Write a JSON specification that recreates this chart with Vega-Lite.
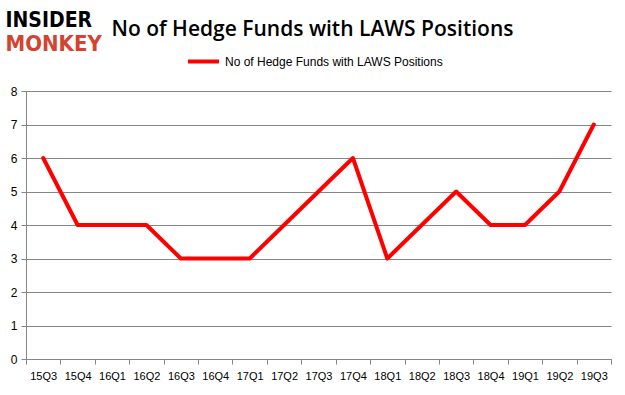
{
  "$schema": "https://vega.github.io/schema/vega-lite/v6.json",
  "width": 585,
  "height": 268,
  "autosize": {"type": "none"},
  "padding": {"left": 26, "top": 91, "right": 14, "bottom": 36},
  "background": "white",
  "title": {
    "text": "No of Hedge Funds with LAWS Positions",
    "font": "Open Sans",
    "fontSize": 21,
    "fontWeight": 600,
    "color": "#000000",
    "anchor": "middle",
    "dx": -6,
    "offset": -31
  },
  "data": {
    "values": [
      {"q": "15Q3", "v": 6, "s": "No of Hedge Funds with LAWS Positions"},
      {"q": "15Q4", "v": 4, "s": "No of Hedge Funds with LAWS Positions"},
      {"q": "16Q1", "v": 4, "s": "No of Hedge Funds with LAWS Positions"},
      {"q": "16Q2", "v": 4, "s": "No of Hedge Funds with LAWS Positions"},
      {"q": "16Q3", "v": 3, "s": "No of Hedge Funds with LAWS Positions"},
      {"q": "16Q4", "v": 3, "s": "No of Hedge Funds with LAWS Positions"},
      {"q": "17Q1", "v": 3, "s": "No of Hedge Funds with LAWS Positions"},
      {"q": "17Q2", "v": 4, "s": "No of Hedge Funds with LAWS Positions"},
      {"q": "17Q3", "v": 5, "s": "No of Hedge Funds with LAWS Positions"},
      {"q": "17Q4", "v": 6, "s": "No of Hedge Funds with LAWS Positions"},
      {"q": "18Q1", "v": 3, "s": "No of Hedge Funds with LAWS Positions"},
      {"q": "18Q2", "v": 4, "s": "No of Hedge Funds with LAWS Positions"},
      {"q": "18Q3", "v": 5, "s": "No of Hedge Funds with LAWS Positions"},
      {"q": "18Q4", "v": 4, "s": "No of Hedge Funds with LAWS Positions"},
      {"q": "19Q1", "v": 4, "s": "No of Hedge Funds with LAWS Positions"},
      {"q": "19Q2", "v": 5, "s": "No of Hedge Funds with LAWS Positions"},
      {"q": "19Q3", "v": 7, "s": "No of Hedge Funds with LAWS Positions"}
    ]
  },
  "mark": {"type": "line", "strokeWidth": 4, "strokeJoin": "round", "strokeCap": "round"},
  "encoding": {
    "x": {
      "field": "q",
      "type": "ordinal",
      "sort": null,
      "bandPosition": 0.5,
      "scale": {"type": "band", "paddingInner": 0, "paddingOuter": 0},
      "axis": {
        "title": "MONKEY",
        "titleFont": "DejaVu Sans Condensed",
        "titleFontWeight": "bold",
        "titleFontSize": 22,
        "titleColor": "#d4432f",
        "titleX": -21,
        "titleY": -309,
        "titleAlign": "left",
        "titleBaseline": "alphabetic",
        "titleAnchor": null,
        "labelAngle": 0,
        "labelFont": "Liberation Sans",
        "labelFontSize": 11,
        "labelColor": "#000000",
        "labelPadding": 6,
        "tickBand": "extent",
        "tickColor": "#868686",
        "tickSize": 5,
        "domainColor": "#868686",
        "grid": false
      }
    },
    "y": {
      "field": "v",
      "type": "quantitative",
      "scale": {"domain": [0, 8]},
      "axis": {
        "title": "INSIDER",
        "titleFont": "DejaVu Sans Condensed",
        "titleFontWeight": "bold",
        "titleFontSize": 21,
        "titleColor": "#000000",
        "titleAngle": 0,
        "titleX": -21,
        "titleY": -65,
        "titleAlign": "left",
        "titleBaseline": "alphabetic",
        "titleAnchor": null,
        "values": [0, 1, 2, 3, 4, 5, 6, 7, 8],
        "labelOverlap": false,
        "labelFont": "Liberation Sans",
        "labelFontSize": 12,
        "labelColor": "#000000",
        "labelPadding": 4,
        "tickColor": "#868686",
        "tickSize": 5,
        "domainColor": "#868686",
        "gridColor": "#868686",
        "gridWidth": 1
      }
    },
    "color": {
      "field": "s",
      "type": "nominal",
      "scale": {"range": ["#ff0000"]},
      "legend": {
        "title": null,
        "orient": "none",
        "legendX": 160,
        "legendY": -47,
        "symbolType": "stroke",
        "symbolStrokeWidth": 4,
        "symbolSize": 961,
        "labelOffset": 4,
        "labelLimit": 400,
        "labelFont": "Liberation Sans",
        "labelFontSize": 12,
        "labelColor": "#000000"
      }
    }
  },
  "config": {"view": {"stroke": null}}
}
